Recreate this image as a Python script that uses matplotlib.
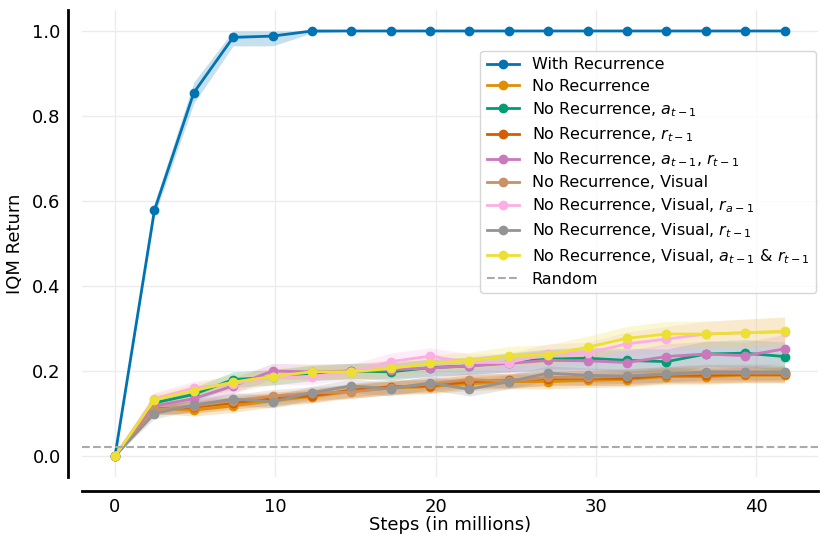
import matplotlib
matplotlib.use("Agg")
import matplotlib.pyplot as plt
import numpy as np

# steps (millions)
steps = [0, 2.46, 4.92, 7.37, 9.83, 12.29, 14.75, 17.2, 19.66, 22.12,
         24.58, 27.03, 29.49, 31.95, 34.41, 36.86, 39.32, 41.78]

labels = ["With Recurrence",
          "No Recurrence",
          "No Recurrence, $a_{t-1}$",
          "No Recurrence, $r_{t-1}$",
          "No Recurrence, $a_{t-1}$, $r_{t-1}$",
          "No Recurrence, Visual",
          "No Recurrence, Visual, $r_{a-1}$",
          "No Recurrence, Visual, $r_{t-1}$",
          "No Recurrence, Visual, $a_{t-1}$ & $r_{t-1}$"]
colors = ["#0173B2", "#DE8F05", "#029E73", "#D55E00", "#CC78BC",
          "#CA9161", "#FBAFE4", "#949494", "#ECE133"]

with_rec = [0, 0.578, 0.855, 0.985, 0.988, 1.0, 1.0, 1.0, 1.0, 1.0,
            1.0, 1.0, 1.0, 1.0, 1.0, 1.0, 1.0, 1.0]
no_rec = [0, 0.112, 0.108, 0.118, 0.130, 0.140, 0.152, 0.160, 0.163, 0.170,
          0.175, 0.175, 0.178, 0.180, 0.187, 0.187, 0.190, 0.190]
no_rec_a = [0, 0.125, 0.145, 0.180, 0.185, 0.195, 0.200, 0.198, 0.208, 0.212,
            0.220, 0.228, 0.230, 0.225, 0.222, 0.240, 0.242, 0.234]
no_rec_r = [0, 0.110, 0.115, 0.125, 0.135, 0.142, 0.155, 0.163, 0.165, 0.175,
            0.178, 0.182, 0.183, 0.183, 0.190, 0.190, 0.192, 0.192]
no_rec_ar = [0, 0.118, 0.135, 0.165, 0.200, 0.198, 0.200, 0.203, 0.207, 0.212,
             0.218, 0.225, 0.224, 0.220, 0.234, 0.240, 0.236, 0.252]
vis = [0, 0.108, 0.118, 0.130, 0.141, 0.148, 0.151, 0.160, 0.170, 0.180,
       0.176, 0.185, 0.185, 0.188, 0.192, 0.195, 0.195, 0.195]
vis_ra = [0, 0.135, 0.160, 0.170, 0.185, 0.187, 0.198, 0.222, 0.235, 0.220,
          0.220, 0.240, 0.242, 0.264, 0.275, 0.287, 0.290, 0.292]
vis_r = [0, 0.100, 0.120, 0.134, 0.128, 0.149, 0.165, 0.158, 0.172, 0.157,
         0.175, 0.195, 0.190, 0.188, 0.193, 0.198, 0.198, 0.198]
vis_ar = [0, 0.132, 0.154, 0.174, 0.187, 0.198, 0.198, 0.206, 0.218, 0.224,
          0.236, 0.238, 0.256, 0.277, 0.287, 0.287, 0.290, 0.294]

# confidence bands
with_rec_lo = [0, 0.565, 0.83, 0.965, 0.965, 0.995, 1.0, 1.0, 1.0, 1.0,
               1.0, 1.0, 1.0, 1.0, 1.0, 1.0, 1.0, 1.0]
with_rec_hi = [0, 0.595, 0.88, 1.0, 1.0, 1.0, 1.0, 1.0, 1.0, 1.0,
               1.0, 1.0, 1.0, 1.0, 1.0, 1.0, 1.0, 1.0]
hw_low = [0, 0.012, 0.014, 0.015, 0.015, 0.015, 0.016, 0.016, 0.016, 0.016,
          0.017, 0.017, 0.017, 0.017, 0.018, 0.018, 0.018, 0.018]
hw_high = [0, 0.015, 0.016, 0.018, 0.018, 0.018, 0.018, 0.020, 0.020, 0.020,
           0.022, 0.024, 0.026, 0.028, 0.030, 0.030, 0.032, 0.034]
random_score = 0.022

series = [with_rec, no_rec, no_rec_a, no_rec_r, no_rec_ar,
          vis, vis_ra, vis_r, vis_ar]
bands = [None, hw_low, hw_high, hw_low, hw_high, hw_low, hw_high, hw_low, hw_high]

plt.rcParams['font.family'] = ['DejaVu Sans']
fig = plt.figure(figsize=(8.31, 5.47), dpi=100)
ax = fig.add_axes([0.0981, 0.1275, 0.8863, 0.8547])

x = np.array(steps)
for i, (y, hw) in enumerate(zip(series, bands)):
    y = np.array(y)
    if hw is None:
        lo, hi = np.array(with_rec_lo), np.array(with_rec_hi)
    else:
        lo, hi = y - np.array(hw), y + np.array(hw)
    ax.fill_between(x, lo, hi, color=colors[i], alpha=0.22, linewidth=0)
    ax.plot(x, y, color=colors[i], linewidth=2, marker='o', markersize=6,
            label=labels[i])

ax.axhline(random_score, color='#aaaaaa', linestyle='--', linewidth=1.5,
           label='Random')

ax.set_yticks([0.0, 0.2, 0.4, 0.6, 0.8, 1.0])
ax.set_xticks([0, 10, 20, 30, 40])
ax.grid(True, color='#ececec', linewidth=1)
ax.set_axisbelow(True)
ax.tick_params(length=0, labelsize=13, pad=5)
ax.set_xlabel("Steps (in millions)", fontsize=13, labelpad=0)
ax.set_ylabel("IQM Return", fontsize=13, labelpad=6)

for s in ['top', 'right']:
    ax.spines[s].set_visible(False)
ax.spines['left'].set_position(('outward', 10))
ax.spines['bottom'].set_position(('outward', 10))
ax.spines['left'].set_linewidth(2)
ax.spines['bottom'].set_linewidth(2)

ax.legend(loc='upper right', bbox_to_anchor=(0.997, 0.912), borderaxespad=0,
          fontsize=11.5, labelspacing=0.4, framealpha=0.8)

fig.savefig("out.png", dpi=100)
